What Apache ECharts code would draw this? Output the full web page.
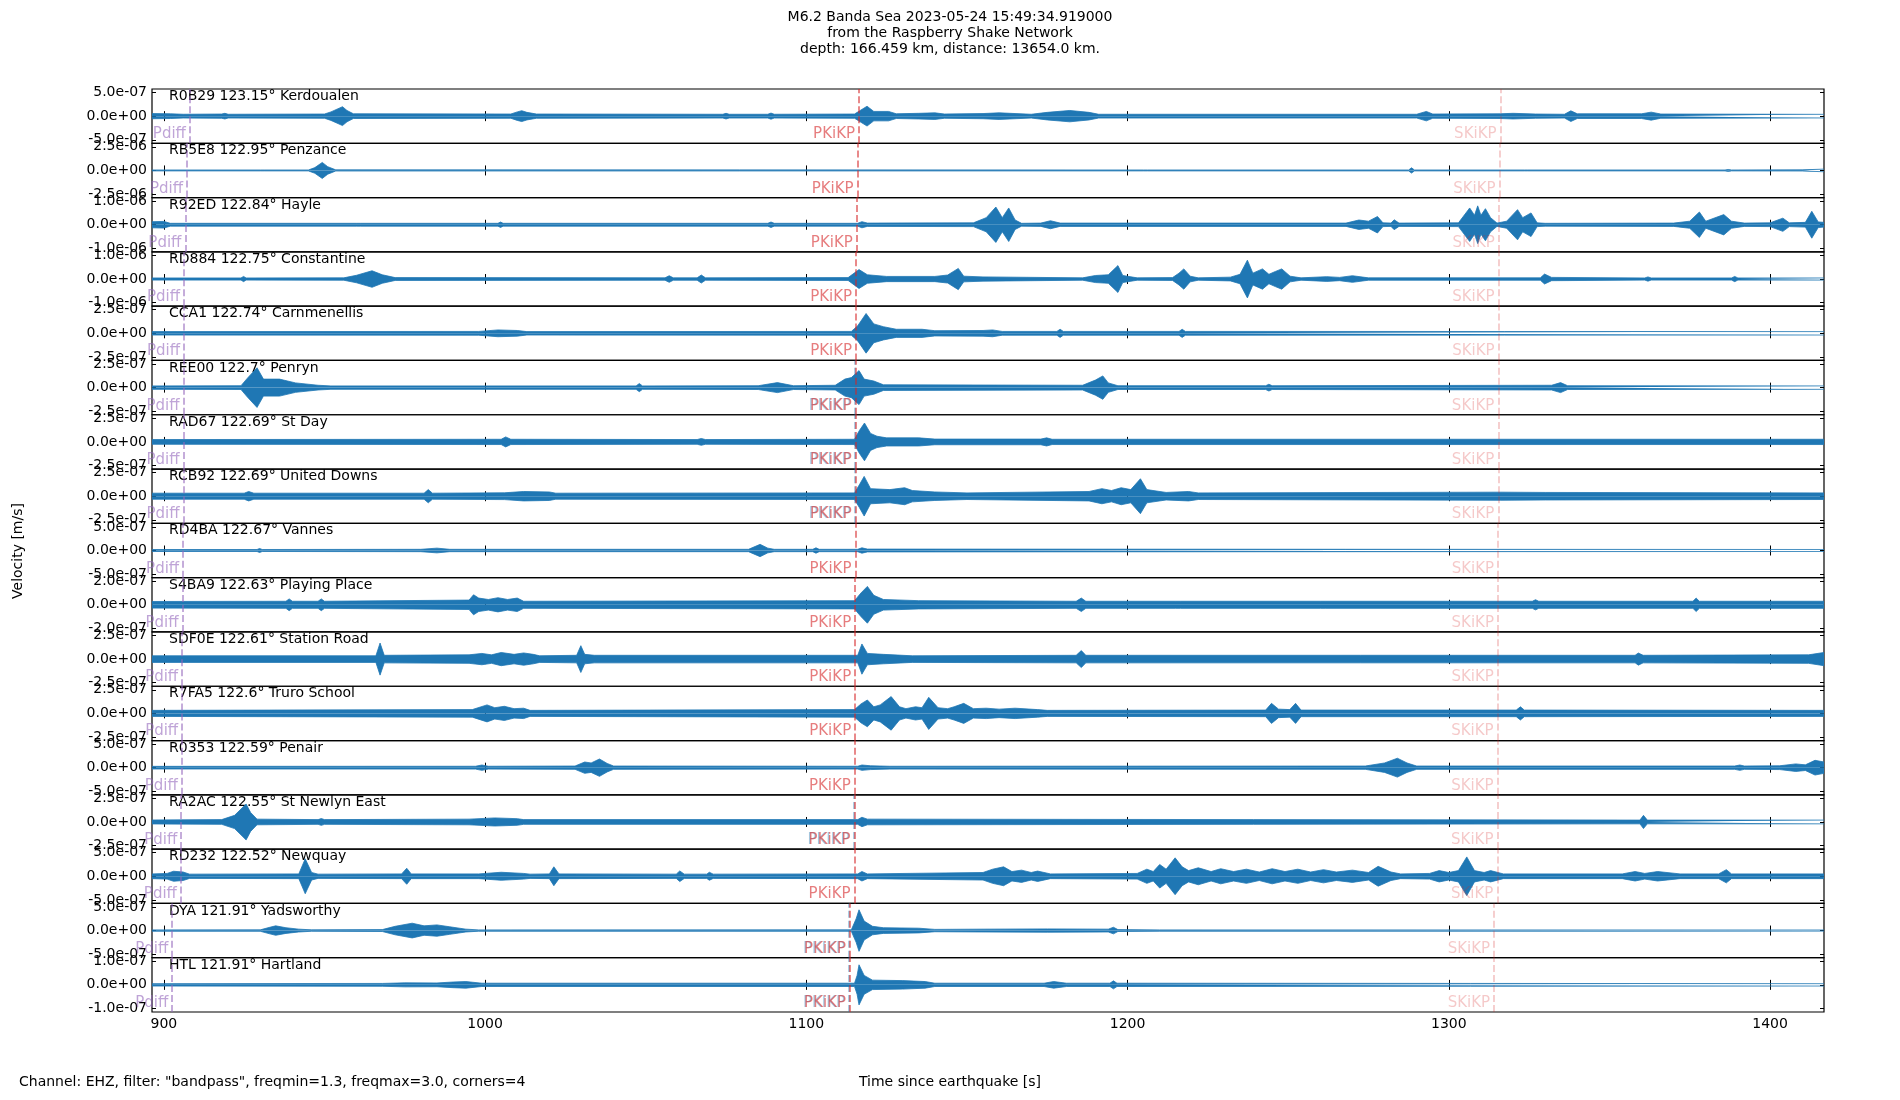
<!DOCTYPE html>
<html>
<head>
<meta charset="utf-8">
<script src="https://cdn.jsdelivr.net/npm/echarts@6/dist/echarts.min.js"></script>
<style>
  html, body { margin: 0; padding: 0; background: #fff; }
  #chart { width: 1900px; height: 1100px; }
</style>
</head>
<body>
<div id="chart"></div>
<script>
// station list, top to bottom
const stations = ['R0B29', 'RB5E8', 'R92ED', 'RD884', 'CCA1', 'REE00', 'RAD67', 'RCB92', 'RD4BA',
  'S4BA9', 'SDF0E', 'R7FA5', 'R0353', 'RA2AC', 'RD232', 'DYA', 'HTL']
const places = ['Kerdoualen', 'Penzance', 'Hayle', 'Constantine', 'Carnmenellis', 'Penryn', 'St Day',
  'United Downs', 'Vannes', 'Playing Place', 'Station Road', 'Truro School', 'Penair', 'St Newlyn East',
  'Newquay', 'Yadsworthy', 'Hartland']
const distances = ['123.15', '122.95', '122.84', '122.75', '122.74', '122.7', '122.69', '122.69', '122.67',
  '122.63', '122.61', '122.6', '122.59', '122.55', '122.52', '121.91', '121.91']
// y tick value of each panel, in 1e-7 m/s
const tickScale = [5, 25, 10, 10, 2.5, 2.5, 2.5, 2.5, 5, 2, 2.5, 2.5, 5, 2.5, 5, 5, 1]

// arrival times [s]
const pdiff = [908.1, 907.2, 906.7, 906.3, 906.3, 906.1, 906.1, 906.1, 906.0, 905.8, 905.7, 905.7, 905.6, 905.4, 905.3, 902.6, 902.6]
const pkikpInner = [null, null, null, null, null, 1115.1, 1115.1, 1115.1, null, null, null, null, null, 1114.7, null, 1113.3, 1113.3]
const pkikp = [1116.4, 1115.95, 1115.7, 1115.5, 1115.5, 1115.4, 1115.4, 1115.4, 1115.3, 1115.2, 1115.2, 1115.2, 1115.1, 1115.0, 1115.0, 1113.6, 1113.6]
const skikp = [1316.1, 1315.8, 1315.6, 1315.5, 1315.5, 1315.4, 1315.4, 1315.4, 1315.35, 1315.3, 1315.25, 1315.2, 1315.2, 1315.15, 1315.1, 1314.1, 1314.1]

const xTicks = [900, 1000, 1100, 1200, 1300, 1400]

// amplitude envelopes [time s, half-width in 1e-7 m/s]
const envR0B29 = [[896.3,0.55],[902,0.5],[906,0.4],[918,0.45],[919,0.6],[920,0.4],[950,0.45],[952,0.9],[955.6,2.0],[957,1.2],[959,0.5],[1008,0.45],[1010,0.9],[1011.4,1.15],[1013,0.8],[1016,0.45],[1074,0.4],[1075,0.6],[1076,0.4],[1088,0.4],[1089,0.65],[1090,0.4],[1115,0.45],[1117,1.3],[1118.9,2.1],[1121,1.0],[1125.6,1.0],[1128,0.5],[1135,0.6],[1140,0.7],[1143,0.45],[1155,0.55],[1160,0.7],[1170,0.4],[1175,0.8],[1182,1.2],[1188,0.8],[1191,0.4],[1290,0.4],[1293,1.0],[1295,0.45],[1316,0.5],[1320,0.6],[1327,0.45],[1336,0.4],[1338,1.13],[1340,0.5],[1360,0.5],[1363,0.85],[1366,0.45],[1416.8,0.38]]
const envRB5E8 = [[896.3,0.5],[930,0.5],[930.6,1.1],[931.2,0.5],[945,0.5],[947,3],[949.3,8.5],[951,4],[953.5,0.6],[1205,0.5],[1205.6,1.0],[1206.2,0.5],[1287.5,0.5],[1288.4,2.8],[1289.3,0.5],[1323.5,0.5],[1324,1.4],[1324.6,0.5],[1386,0.5],[1387,1.0],[1388,0.5],[1410,0.6],[1416.8,1.4]]
const envR92ED = [[896.3,1.3],[900,1.4],[902,0.6],[960,0.6],[960.6,1.0],[961.2,0.6],[1004,0.6],[1004.8,1.15],[1005.6,0.6],[1088,0.6],[1089,1.15],[1090,0.6],[1116,0.6],[1117.3,1.3],[1119,0.7],[1152,0.8],[1156,3],[1159,7.5],[1161,3],[1163,7.1],[1165,2],[1167,0.6],[1173,0.7],[1176,1.7],[1179,0.7],[1268,0.7],[1272,2.0],[1275,1.5],[1277.8,3.5],[1279.5,0.8],[1282,0.7],[1283,2.1],[1284.5,0.7],[1303,0.8],[1306.5,7.1],[1308,4],[1309,8.0],[1310,4],[1311.4,6.8],[1313,3],[1315,0.7],[1318,1.5],[1321.4,6.4],[1323,3],[1325.6,5.0],[1327.5,0.8],[1330,0.6],[1370,0.7],[1375,1.5],[1378,5.4],[1380,1.5],[1385.6,4.3],[1388,1.5],[1392,0.7],[1400,0.8],[1404,2.8],[1406,0.8],[1411,1.0],[1413,5.7],[1415,1.2],[1416.8,1.0]]
const envRD884 = [[896.3,0.45],[924,0.45],[924.8,1.1],[925.6,0.45],[956,0.5],[960,1.6],[964.8,3.5],[968,1.8],[972,0.6],[1056,0.5],[1057.3,1.4],[1058.6,0.5],[1066,0.5],[1067.3,1.7],[1068.6,0.5],[1113,0.6],[1116.4,4.0],[1119,1.8],[1125,1.1],[1140,1.1],[1144,1.7],[1147.3,4.5],[1149,1.2],[1155,0.9],[1186,0.5],[1190,1.5],[1194,1.8],[1197,5.7],[1198.5,1.5],[1203,0.5],[1214,0.6],[1216,2.5],[1217.5,4.3],[1219.5,1.2],[1222,0.5],[1232,0.8],[1235,2.0],[1237.3,8.0],[1239,2.5],[1242,4.3],[1244,2.0],[1246,3.2],[1248,4.3],[1250.6,1.2],[1254,0.5],[1262,1.0],[1266,0.7],[1270,1.4],[1275,0.5],[1328.5,0.5],[1329.8,2.1],[1332,0.7],[1361,0.45],[1362,0.9],[1363,0.45],[1388,0.45],[1389,1.1],[1390,0.45],[1416.8,0.45]]
const envCCA1 = [[896.3,0.18],[998,0.2],[1004,0.36],[1010,0.3],[1013,0.18],[1114,0.2],[1116,0.8],[1118.6,2.1],[1121,1.0],[1124,0.7],[1128,0.43],[1136,0.43],[1140,0.28],[1155,0.3],[1158,0.36],[1161,0.2],[1178,0.2],[1179,0.43],[1180,0.2],[1216,0.2],[1217,0.43],[1218,0.2],[1416.8,0.18]]
const envREE00 = [[896.3,0.18],[924,0.2],[926,1.0],[929,2.1],[931,0.9],[936,0.9],[941,0.5],[948,0.25],[952,0.18],[1047,0.18],[1048,0.43],[1049,0.18],[1085,0.2],[1091,0.53],[1096,0.2],[1109,0.25],[1112,0.9],[1114,1.06],[1116.4,1.8],[1118,0.9],[1121,0.7],[1124,0.3],[1186,0.25],[1190,0.8],[1192.3,1.24],[1194,0.5],[1197,0.2],[1243,0.2],[1244,0.36],[1245,0.2],[1332,0.25],[1334.8,0.53],[1337,0.2],[1416.8,0.18]]
const envRAD67 = [[896.3,0.25],[1005,0.28],[1006.4,0.53],[1008,0.28],[1066,0.25],[1067.3,0.36],[1068.6,0.25],[1115,0.28],[1116.5,1.2],[1118.1,2.0],[1120,0.9],[1122,0.6],[1125,0.43],[1135,0.43],[1140,0.3],[1173,0.3],[1174.8,0.43],[1176.5,0.28],[1416.8,0.28]]
const envRCB92 = [[896.3,0.32],[925,0.32],[926.4,0.5],[928,0.32],[981,0.32],[982.3,0.7],[983.6,0.32],[1006,0.36],[1012,0.5],[1020,0.45],[1022,0.32],[1115,0.35],[1116.5,1.2],[1118,2.1],[1120,0.8],[1126,0.7],[1130.6,0.9],[1133,0.6],[1140,0.45],[1150,0.35],[1188,0.5],[1192,0.8],[1195,0.6],[1198,0.9],[1201,0.7],[1204,1.85],[1206,0.7],[1212,0.4],[1219,0.5],[1222,0.35],[1316,0.43],[1330,0.4],[1416.8,0.35]]
const envRD4BA = [[896.3,0.21],[929,0.21],[929.8,0.43],[930.6,0.21],[980,0.25],[985,0.5],[989,0.25],[1082,0.25],[1085.6,1.3],[1088,0.5],[1090,0.25],[1102,0.25],[1103,0.57],[1104,0.25],[1116,0.25],[1117.3,0.57],[1119,0.3],[1416.8,0.21]]
const envS4BA9 = [[896.3,0.28],[938,0.3],[939,0.5],[940,0.3],[948,0.3],[949,0.5],[950,0.3],[995,0.4],[996.4,0.85],[998,0.57],[1001,0.45],[1004,0.6],[1007,0.45],[1010,0.57],[1012,0.3],[1115,0.35],[1117,1.0],[1119,1.56],[1121,0.8],[1124,0.45],[1135,0.35],[1184,0.3],[1185.6,0.57],[1187,0.3],[1215,0.3],[1215.6,0.43],[1216.5,0.3],[1260,0.3],[1260.6,0.45],[1261.5,0.3],[1326,0.3],[1327,0.43],[1328,0.3],[1376,0.3],[1377,0.57],[1378,0.3],[1416.8,0.3]]
const envSDF0E = [[896.3,0.35],[966,0.35],[967.3,1.7],[968.6,0.4],[995,0.45],[999,0.6],[1002,0.45],[1005,0.7],[1009,0.5],[1012,0.65],[1015,0.5],[1017,0.35],[1028.5,0.4],[1029.8,1.42],[1031,0.5],[1034,0.4],[1116,0.4],[1117.3,1.6],[1119,0.6],[1124,0.5],[1133,0.35],[1184,0.4],[1185.6,0.9],[1187,0.4],[1358,0.4],[1359,0.64],[1360.5,0.4],[1412,0.45],[1416.8,0.7]]
const envR7FA5 = [[896.3,0.32],[996,0.4],[1000.6,0.9],[1003,0.6],[1006,0.75],[1009,0.5],[1012,0.55],[1014,0.32],[1115,0.4],[1117,1.0],[1119,1.42],[1121,0.7],[1123,0.9],[1126.4,1.78],[1129,0.7],[1131,0.5],[1134,0.7],[1136,0.6],[1138.1,1.7],[1141,0.6],[1144,0.5],[1146,0.7],[1149,1.06],[1152,0.5],[1156,0.55],[1160,0.45],[1165,0.55],[1172,0.4],[1175,0.32],[1243,0.35],[1244.8,1.06],[1247,0.45],[1250.5,0.4],[1252.3,1.06],[1254,0.35],[1321,0.35],[1322.3,0.7],[1323.5,0.35],[1416.8,0.32]]
const envR0353 = [[896.3,0.28],[997,0.3],[999,0.57],[1001,0.3],[1028,0.35],[1031,1.2],[1033,1.0],[1035.6,1.84],[1038,0.9],[1040,0.35],[1116,0.3],[1117.3,0.57],[1120,0.4],[1126,0.3],[1274,0.35],[1280,1.0],[1284,2.0],[1287,1.0],[1290,0.35],[1389,0.35],[1390.6,0.57],[1392,0.35],[1403,0.4],[1408,0.8],[1411,0.6],[1414,1.56],[1416.8,1.2]]
const envRA2AC = [[896.3,0.21],[918,0.25],[922,0.7],[925.6,1.9],[927,1.0],[929,0.3],[948,0.25],[949,0.36],[950,0.25],[995,0.3],[1003,0.43],[1010,0.35],[1012,0.25],[1116,0.25],[1117.3,0.5],[1119,0.3],[1359.5,0.2],[1360.6,0.7],[1361.8,0.2],[1416.8,0.2]]
const envRD232 = [[896.3,0.5],[901,0.6],[903,1.06],[906,0.9],[908,0.45],[942,0.5],[944,3.7],[946,0.8],[948,0.45],[974,0.5],[975.6,1.7],[977,0.5],[998,0.5],[1005,0.85],[1012,0.6],[1014,0.45],[1020,0.5],[1021.4,2.0],[1023,0.5],[1059.5,0.45],[1060.6,1.13],[1062,0.45],[1069,0.45],[1069.8,0.85],[1071,0.45],[1116,0.5],[1117.3,1.0],[1119,0.5],[1155,0.8],[1158,1.5],[1161.4,2.0],[1164,1.0],[1167,1.3],[1170,0.8],[1172,1.1],[1176,0.5],[1203,0.6],[1206,1.5],[1208,1.0],[1210,2.5],[1212,1.5],[1214.8,3.9],[1217,2.0],[1219,1.2],[1222,1.8],[1226,1.0],[1229,1.6],[1233,1.0],[1237,1.5],[1241,0.9],[1245,1.6],[1249,1.0],[1253,1.5],[1257,0.9],[1261,1.4],[1265,0.9],[1270,1.3],[1275,0.8],[1278,2.1],[1282,0.9],[1285,0.5],[1294,0.6],[1297,1.2],[1300,0.8],[1303,1.2],[1305.6,4.1],[1308,1.2],[1311,0.8],[1313,1.2],[1317,0.5],[1354,0.5],[1358,1.0],[1361,0.6],[1365,1.0],[1372,0.5],[1384,0.5],[1386.4,1.4],[1388,0.5],[1416.8,0.5]]
const envDYA = [[896.3,0.14],[930,0.15],[933,0.7],[934.8,1.0],[938,0.6],[942,0.3],[946,0.15],[968,0.2],[972,0.9],[977.3,1.56],[981,1.0],[985,1.2],[989,0.8],[994,0.3],[998,0.14],[1114,0.15],[1115.5,2.5],[1116.4,4.4],[1118,2.0],[1120.6,0.9],[1124,0.6],[1135,0.5],[1140,0.25],[1155,0.3],[1175,0.35],[1194,0.3],[1195.6,0.7],[1197,0.2],[1210,0.14],[1416.8,0.12]]
const envHTL = [[896.3,0.05],[968,0.06],[975,0.085],[985,0.08],[990,0.12],[994,0.14],[999,0.07],[1004,0.07],[1115,0.07],[1115.8,0.4],[1116.4,0.85],[1118,0.4],[1120.6,0.2],[1130,0.18],[1137,0.14],[1140,0.07],[1174,0.07],[1177,0.14],[1181,0.07],[1194.5,0.07],[1195.6,0.17],[1196.7,0.07],[1416.8,0.05]]

const envelopes = [envR0B29, envRB5E8, envR92ED, envRD884, envCCA1, envREE00, envRAD67, envRCB92, envRD4BA,
  envS4BA9, envSDF0E, envR7FA5, envR0353, envRA2AC, envRD232, envDYA, envHTL]

const chart = echarts.init(document.getElementById('chart'))

const N = stations.length
const top0 = 89
const panelH = (1012 - 89) / N
const font = 'DejaVu Sans'
const traceColor = '#1f77b4'
const cPdiff = 'rgba(148,103,189,0.6)'
const cPKIKP = 'rgba(31,119,180,0.4)'
const cPKiKP = 'rgba(214,39,40,0.6)'
const cSKiKP = 'rgba(214,39,40,0.25)'

function sci(v) {
  let s = (v * 1e-7).toExponential(1)
  return s.replace(/e([+-])(\d+)$/, function (m, sg, d) { return 'e' + sg + (d.length < 2 ? '0' + d : d) })
}

let grids = [], xAxes = [], xAxesTop = [], yAxes = [], yAxesRight = [], series = [], graphics = []

for (let i = 0; i < N; i++) {
  const T = tickScale[i]
  const top = top0 + i * panelH
  grids.push({ left: 152, right: 76, top: top, height: panelH, show: true, borderColor: '#000', borderWidth: 1.2 })
  xAxes.push({
    type: 'value', gridIndex: i, min: 896.3, max: 1416.8, position: 'bottom',
    axisLine: { show: false }, splitLine: { show: false },
    axisTick: { show: true, inside: true, length: 5, customValues: xTicks, lineStyle: { color: '#000', width: 1 } },
    axisLabel: { show: i === N - 1, customValues: xTicks, formatter: v => String(v), color: '#000', fontSize: 14, fontFamily: font, margin: 5 }
  })
  xAxesTop.push({
    type: 'value', gridIndex: i, min: 896.3, max: 1416.8, position: 'top',
    axisLine: { show: false }, splitLine: { show: false },
    axisTick: { show: true, inside: true, length: 5, customValues: xTicks, lineStyle: { color: '#000', width: 1 } },
    axisLabel: { show: false }
  })
  yAxes.push({
    type: 'value', gridIndex: i, min: -1.15 * T, max: 1.15 * T, position: 'left',
    axisLine: { show: false }, splitLine: { show: false },
    axisTick: { show: true, inside: true, length: 4, customValues: [-T, 0, T], lineStyle: { color: '#000' } },
    axisLabel: { customValues: [-T, 0, T], formatter: sci, color: '#000', fontSize: 14, fontFamily: font, margin: 5 }
  })
  yAxesRight.push({
    type: 'value', gridIndex: i, min: -1.15 * T, max: 1.15 * T, position: 'right',
    axisLine: { show: false }, splitLine: { show: false },
    axisTick: { show: true, inside: true, length: 4, customValues: [-T, 0, T], lineStyle: { color: '#000' } },
    axisLabel: { show: false }
  })

  const env = envelopes[i]
  const phases = [
    { t: pdiff[i], name: 'Pdiff', color: cPdiff },
    { t: pkikpInner[i], name: 'PKIKP', color: cPKIKP },
    { t: pkikp[i], name: 'PKiKP', color: cPKiKP },
    { t: skikp[i], name: 'SKiKP', color: cSKiKP }
  ].filter(p => p.t !== null)
  const yLab = -0.77 * T

  series.push({
    type: 'line', xAxisIndex: i, yAxisIndex: i, data: env.map(p => [p[0], p[1]]),
    showSymbol: false, symbol: 'none', animation: false, silent: true,
    lineStyle: { color: traceColor, width: 0.8 }, areaStyle: { color: traceColor, opacity: 1 }, z: 2
  })
  series.push({
    type: 'line', xAxisIndex: i, yAxisIndex: i, data: env.map(p => [p[0], -p[1]]),
    showSymbol: false, symbol: 'none', animation: false, silent: true,
    lineStyle: { color: traceColor, width: 0.8 }, areaStyle: { color: traceColor, opacity: 1 }, z: 2,
    markLine: {
      silent: true, symbol: ['none', 'none'], animation: false,
      label: { show: false },
      data: phases.map(p => ({ xAxis: p.t, lineStyle: { color: p.color, type: [7, 3], width: 1.8 } }))
    },
    markPoint: {
      silent: true, animation: false, symbol: 'circle', symbolSize: 0,
      data: phases.map(p => ({
        coord: [p.t, yLab], name: p.name,
        label: { show: true, position: 'left', distance: 4, formatter: p.name, color: p.color, fontSize: 15, fontFamily: font }
      }))
    }
  })

  graphics.push({
    type: 'text', x: 169, y: top + 7.5,
    style: { text: stations[i] + ' ' + distances[i] + '° ' + places[i], font: '14px "DejaVu Sans"', fill: '#000', align: 'left', verticalAlign: 'middle' }
  })
}

const titleLines = ['M6.2 Banda Sea 2023-05-24 15:49:34.919000', 'from the Raspberry Shake Network', 'depth: 166.459 km, distance: 13654.0 km.']
titleLines.forEach((s, k) => {
  graphics.push({ type: 'text', x: 950, y: 17 + k * 16, style: { text: s, font: '14px "DejaVu Sans"', fill: '#000', align: 'center', verticalAlign: 'middle' } })
})
graphics.push({ type: 'text', x: 19, y: 1082, style: { text: 'Channel: EHZ, filter: "bandpass", freqmin=1.3, freqmax=3.0, corners=4', font: '14px "DejaVu Sans"', fill: '#000', align: 'left', verticalAlign: 'middle' } })
graphics.push({ type: 'text', x: 950, y: 1082, style: { text: 'Time since earthquake [s]', font: '14px "DejaVu Sans"', fill: '#000', align: 'center', verticalAlign: 'middle' } })
graphics.push({ type: 'text', x: 18, y: 551, rotation: Math.PI / 2, style: { text: 'Velocity [m/s]', font: '14px "DejaVu Sans"', fill: '#000', align: 'center', verticalAlign: 'middle' } })

chart.setOption({
  backgroundColor: '#fff',
  animation: false,
  grid: grids,
  xAxis: xAxes.concat(xAxesTop),
  yAxis: yAxes.concat(yAxesRight),
  series: series,
  graphic: graphics
})
</script>
</body>
</html>
